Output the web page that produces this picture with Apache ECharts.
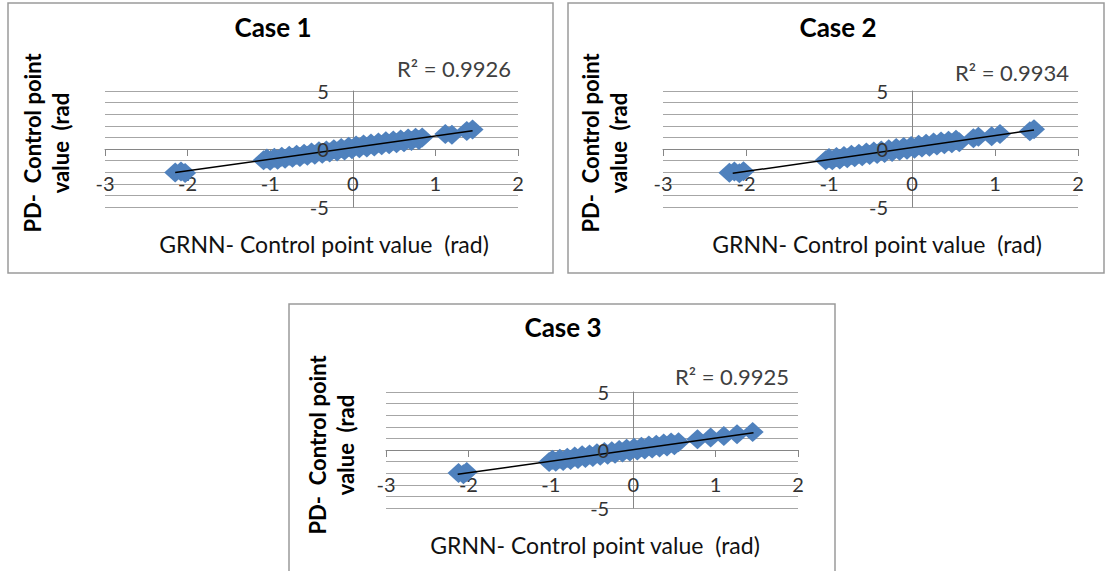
<!DOCTYPE html>
<html>
<head>
<meta charset="utf-8">
<script src="https://cdn.jsdelivr.net/npm/echarts@6/dist/echarts.min.js"></script>
<style>
  html, body { margin: 0; padding: 0; background: #fff; }
  #chart { width: 1107px; height: 571px; }
</style>
</head>
<body>
<div id="chart"></div>
<script>
// values (x = GRNN, y = PD)
const caseNames = ["Case 1", "Case 2", "Case 3"];
const rSquared = ["0.9926", "0.9934", "0.9925"];
const xTicks = [-3, -2, -1, 0, 1, 2];
const yTicks = [-5, 0, 5];

const case1Points = [
  [-2.15, -2.02], [-2.08, -1.94], [-2.03, -2.06],
  [-1.08, -0.98], [-1.04, -0.82], [-1.0, -1.02], [-0.95, -0.76], [-0.91, -0.92],
  [-0.86, -0.66], [-0.82, -0.84], [-0.77, -0.58], [-0.73, -0.76], [-0.68, -0.5],
  [-0.64, -0.68], [-0.59, -0.4], [-0.55, -0.58], [-0.5, -0.3], [-0.46, -0.5],
  [-0.41, -0.2], [-0.37, -0.4], [-0.32, -0.12], [-0.28, -0.3], [-0.23, -0.02],
  [-0.19, -0.22], [-0.14, 0.08], [-0.1, -0.12], [-0.05, 0.2], [-0.01, -0.02],
  [0.04, 0.3], [0.08, 0.06], [0.13, 0.38], [0.17, 0.14], [0.22, 0.48],
  [0.26, 0.22], [0.31, 0.56], [0.35, 0.32], [0.4, 0.66], [0.44, 0.4],
  [0.49, 0.74], [0.53, 0.5], [0.58, 0.82], [0.62, 0.58], [0.67, 0.9],
  [0.71, 0.68], [0.76, 0.98], [0.8, 0.78], [0.84, 1.0],
  [1.12, 1.3], [1.2, 1.22], [1.38, 1.55], [1.45, 1.68]
];
const case2Points = [
  [-2.2, -2.05], [-2.14, -1.93], [-2.08, -2.1], [-2.03, -1.92],
  [-1.04, -0.98], [-1.0, -0.78], [-0.96, -0.98], [-0.91, -0.7], [-0.87, -0.9],
  [-0.82, -0.6], [-0.78, -0.8], [-0.73, -0.5], [-0.69, -0.72], [-0.64, -0.4],
  [-0.6, -0.62], [-0.55, -0.3], [-0.51, -0.52], [-0.46, -0.22], [-0.42, -0.44],
  [-0.37, -0.12], [-0.33, -0.34], [-0.28, -0.02], [-0.24, -0.26], [-0.19, 0.08],
  [-0.15, -0.16], [-0.1, 0.18], [-0.06, -0.06], [-0.01, 0.26], [0.03, 0.02],
  [0.08, 0.36], [0.12, 0.12], [0.17, 0.46], [0.21, 0.2], [0.26, 0.56],
  [0.3, 0.3], [0.35, 0.64], [0.39, 0.4], [0.44, 0.72], [0.48, 0.5],
  [0.53, 0.8], [0.57, 0.58],
  [0.74, 0.92], [0.8, 1.05], [0.96, 1.1], [1.06, 1.3], [1.42, 1.52], [1.47, 1.7]
];
const case3Points = [
  [-2.12, -1.98], [-2.06, -2.08], [-2.02, -1.9],
  [-1.02, -1.04], [-0.98, -0.84], [-0.94, -1.02], [-0.89, -0.76], [-0.85, -0.94],
  [-0.8, -0.66], [-0.76, -0.86], [-0.71, -0.56], [-0.67, -0.78], [-0.62, -0.46],
  [-0.58, -0.68], [-0.53, -0.38], [-0.49, -0.6], [-0.44, -0.28], [-0.4, -0.5],
  [-0.35, -0.18], [-0.31, -0.42], [-0.26, -0.1], [-0.22, -0.32], [-0.17, 0.0],
  [-0.13, -0.22], [-0.08, 0.1], [-0.04, -0.14], [0.01, 0.2], [0.05, -0.04],
  [0.1, 0.28], [0.14, 0.04], [0.19, 0.38], [0.23, 0.12], [0.28, 0.46],
  [0.32, 0.22], [0.37, 0.56], [0.41, 0.3], [0.46, 0.64], [0.5, 0.4], [0.55, 0.66],
  [0.78, 0.92], [0.94, 1.08], [1.1, 1.2], [1.26, 1.36], [1.45, 1.55]
];

// linear trendline ends
const case1Trend = [[-2.15, -2.03], [1.45, 1.57]];
const case2Trend = [[-2.16, -2.1], [1.47, 1.64]];
const case3Trend = [[-2.13, -2.1], [1.46, 1.49]];

const allPoints = [case1Points, case2Points, case3Points];
const allTrends = [case1Trend, case2Trend, case3Trend];

const FONT = "Lato, 'Open Sans', sans-serif";
const BLUE = "#4F81BD";
const GRID_LINE = "#a6a6a6";
const PLOT_H = 116;

// panel placement (left/top of each plot box, plus frame)
const panels = [
  { left: 105, top: 91, width: 413, frame: [8, 3, 545, 270], title: [273, 27], r2: [454, 68], xName: [324, 244], yName: [46, 143] },
  { left: 663, top: 91, width: 415, frame: [568, 3, 536, 270], title: [838, 27], r2: [1012, 72], xName: [877, 244], yName: [604, 143] },
  { left: 386, top: 392, width: 412, frame: [289, 304, 546, 290], title: [563, 327], r2: [732, 376], xName: [595, 545], yName: [331, 445] }
];

const grids = [], xAxes = [], yAxes = [], series = [], graphics = [];

panels.forEach((p, i) => {
  grids.push({ left: p.left, top: p.top, width: p.width, height: PLOT_H });

  const xMin = xTicks[0], xMax = xTicks[xTicks.length - 1];
  const yMin = yTicks[0], yMax = yTicks[yTicks.length - 1];
  const yOffset = -p.width * (0 - xMin) / (xMax - xMin);

  // axes cross at zero: shift them into the plot with offset
  xAxes.push({
    gridIndex: i,
    type: "value",
    min: xMin,
    max: xMax,
    interval: 1,
    offset: -PLOT_H * (0 - yMin) / (yMax - yMin),
    axisLine: { onZero: false, lineStyle: { color: "#868686", width: 1 } },
    axisTick: { show: true, length: 7, lineStyle: { color: "#868686" } },
    axisLabel: { margin: 24, color: "#333", fontFamily: FONT, fontSize: 20 },
    splitLine: { show: false }
  });

  // y axis with grid lines (under the markers)
  yAxes.push({
    gridIndex: i,
    type: "value",
    min: yMin,
    max: yMax,
    interval: 5,
    offset: yOffset,
    axisLine: { show: true, onZero: false, lineStyle: { color: "#868686", width: 1 } },
    axisTick: { show: false },
    axisLabel: { show: false },
    splitLine: { show: true, lineStyle: { color: GRID_LINE, width: 1 } },
    minorTick: { show: false, splitNumber: 5 },
    minorSplitLine: { show: true, lineStyle: { color: GRID_LINE, width: 1 } }
  });
  // same y axis again, only its labels, drawn above the markers
  yAxes.push({
    gridIndex: i,
    type: "value",
    position: "left",
    min: yMin,
    max: yMax,
    interval: 5,
    z: 6,
    offset: yOffset,
    axisLine: { show: false, onZero: false },
    axisTick: { show: false },
    axisLabel: { margin: 24, color: "#333", fontFamily: FONT, fontSize: 20 },
    splitLine: { show: false }
  });

  series.push({
    type: "scatter",
    xAxisIndex: i,
    yAxisIndex: 2 * i,
    symbol: "diamond",
    symbolSize: [22, 20],
    itemStyle: { color: BLUE, opacity: 1 },
    data: allPoints[i],
    z: 2
  });

  series.push({
    type: "line",
    xAxisIndex: i,
    yAxisIndex: 2 * i,
    data: allTrends[i],
    symbol: "none",
    lineStyle: { color: "#000", width: 1.5 },
    z: 3
  });

  graphics.push(
    {
      type: "rect",
      shape: { x: p.frame[0], y: p.frame[1], width: p.frame[2], height: p.frame[3] },
      style: { fill: null, stroke: "#9a9a9a", lineWidth: 1.5 },
      silent: true
    },
    {
      type: "text", x: p.title[0], y: p.title[1],
      style: { text: caseNames[i], font: "bold 26px " + FONT, fill: "#000",
               align: "center", verticalAlign: "middle", textAlign: "center", textVerticalAlign: "middle" }
    },
    {
      type: "text", x: p.r2[0], y: p.r2[1],
      style: { text: "R\u00B2 = " + rSquared[i], font: "22px " + FONT, fill: "#404040",
               align: "center", verticalAlign: "middle", textAlign: "center", textVerticalAlign: "middle" }
    },
    {
      type: "text", x: p.xName[0], y: p.xName[1],
      style: { text: "GRNN- Control point value  (rad)", font: "23px " + FONT, fill: "#111",
               align: "center", verticalAlign: "middle", textAlign: "center", textVerticalAlign: "middle" }
    },
    {
      type: "text", x: p.yName[0], y: p.yName[1], rotation: Math.PI / 2,
      style: { text: "PD-  Control point\nvalue  (rad", font: "bold 22px " + FONT, fill: "#000",
               lineHeight: 28,
               align: "center", verticalAlign: "middle", textAlign: "center", textVerticalAlign: "middle" }
    }
  );
});

const chart = echarts.init(document.getElementById("chart"), null, { renderer: "svg" });
chart.setOption({
  animation: false,
  backgroundColor: "#fff",
  grid: grids,
  xAxis: xAxes,
  yAxis: yAxes,
  series: series,
  graphic: graphics
});
</script>
</body>
</html>
